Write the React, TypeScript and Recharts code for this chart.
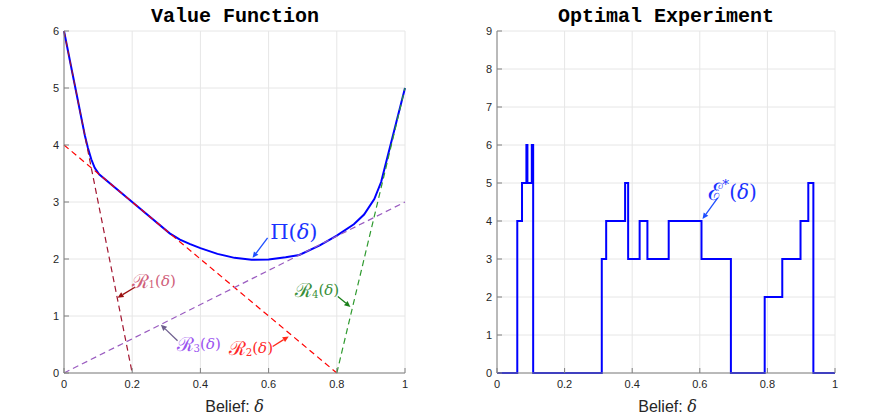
import React from 'react';
import {
  LineChart,
  Line,
  XAxis,
  YAxis,
  CartesianGrid,
  ReferenceLine,
  ReferenceDot,
} from 'recharts';

// value function Pi(delta)
const piX = [0, 0.03, 0.061, 0.07, 0.08, 0.09, 0.103, 0.2, 0.31, 0.34, 0.37, 0.4, 0.45, 0.5, 0.55, 0.6, 0.65, 0.69, 0.75, 0.8, 0.85, 0.88, 0.91, 0.93, 1];
const piY = [6, 5.1, 4.17, 3.95, 3.75, 3.6, 3.485, 3.0, 2.45, 2.34, 2.26, 2.19, 2.09, 2.02, 1.985, 1.99, 2.03, 2.07, 2.24, 2.41, 2.61, 2.78, 3.05, 3.35, 5];

// the four dashed lines R1..R4
const r1X = [0, 0.2];
const r1Y = [6, 0];
const r2X = [0, 0.8];
const r2Y = [4, 0];
const r3X = [0, 1];
const r3Y = [0, 3];
const r4X = [0.8, 1];
const r4Y = [0, 5];

// optimal experiment (step function)
const expX = [0, 0.06, 0.074, 0.087, 0.09, 0.103, 0.107, 0.31, 0.323, 0.379, 0.388, 0.422, 0.445, 0.508, 0.605, 0.692, 0.792, 0.844, 0.898, 0.921, 0.936, 1];
const expY = [0, 4, 5, 6, 5, 6, 0, 3, 4, 5, 3, 4, 3, 4, 3, 0, 2, 3, 4, 5, 0, 0];

const xTicks = [0, 0.2, 0.4, 0.6, 0.8, 1];
const valueTicks = [0, 1, 2, 3, 4, 5, 6];
const expTicks = [0, 1, 2, 3, 4, 5, 6, 7, 8, 9];

const zip = (xs: number[], ys: number[]) => xs.map((x, i) => ({ x, y: ys[i] }));

const AXIS = '#808080';
const SANS = "'Liberation Sans', Arial, sans-serif";
const MATH = "'DejaVu Serif', serif";

// MATLAB-like tick: short inward mark plus label
const makeTick = (side: 'bottom' | 'left' | 'top' | 'right', gap: number) => (p: any) => {
  const { x, y, payload } = p;
  const label = String(payload.value);
  if (side === 'bottom') {
    return (
      <g>
        <line x1={x} y1={y - gap} x2={x} y2={y - gap - 5} stroke={AXIS} />
        <text x={x} y={y} dy="0.8em" textAnchor="middle" fontFamily={SANS} fontSize={11} fill="#262626">{label}</text>
      </g>
    );
  }
  if (side === 'left') {
    return (
      <g>
        <line x1={x + gap} y1={y} x2={x + gap + 5} y2={y} stroke={AXIS} />
        <text x={x} y={y} dy="0.35em" textAnchor="end" fontFamily={SANS} fontSize={11} fill="#262626">{label}</text>
      </g>
    );
  }
  if (side === 'top') return <line x1={x} y1={y + gap} x2={x} y2={y + gap + 5} stroke={AXIS} />;
  return <line x1={x - gap} y1={y} x2={x - gap - 5} y2={y} stroke={AXIS} />;
};

const arrowShape = (color: string) => (p: any) => {
  const { x1, y1, x2, y2 } = p;
  const a = Math.atan2(y2 - y1, x2 - x1);
  const L = 6;
  const W = 2.8;
  const bx = x2 - L * Math.cos(a);
  const by = y2 - L * Math.sin(a);
  const pts = `${x2},${y2} ${bx - W * Math.sin(a)},${by + W * Math.cos(a)} ${bx + W * Math.sin(a)},${by - W * Math.cos(a)}`;
  return (
    <g>
      <line x1={x1} y1={y1} x2={bx} y2={by} stroke={color} strokeWidth={1.3} />
      <polygon points={pts} fill={color} />
    </g>
  );
};

const mathLabel = (base: string, sub: string, sup: string, color: string, size: number, baseScale = 1) => (p: any) => {
  const shift = sub ? size * 0.25 : sup ? -size * 0.4 : 0;
  return (
    <text x={p.cx} y={p.cy} textAnchor="middle" dominantBaseline="central" fill={color} fontFamily={MATH} fontSize={size}>
      <tspan fontSize={size * baseScale}>{base}</tspan>
      {sub && <tspan fontSize={size * 0.68} dy={shift}>{sub}</tspan>}
      {sup && <tspan fontSize={size * 0.68} dy={shift}>{sup}</tspan>}
      <tspan dy={-shift}>(</tspan>
      <tspan fontStyle="italic">δ</tspan>)
    </text>
  );
};

const Title = ({ text, left }: { text: string; left: number }) => (
  <div
    style={{
      position: 'absolute', left, top: 5, width: 436, textAlign: 'center',
      fontFamily: "'Liberation Mono', 'Courier New', monospace", fontWeight: 'bold', fontSize: 20, color: '#000',
    }}
  >
    {text}
  </div>
);

const XLabel = ({ left }: { left: number }) => (
  <div
    style={{
      position: 'absolute', left, top: 397, width: 341, textAlign: 'center',
      fontFamily: SANS, fontSize: 16, color: '#262626',
    }}
  >
    Belief: <span style={{ fontFamily: MATH, fontStyle: 'italic' }}>δ</span>
  </div>
);

const axes = (yTicks: number[], yMax: number, yWidth: number) => [
  <XAxis key="xb" xAxisId={0} dataKey="x" type="number" domain={[0, 1]} ticks={xTicks}
    height={47} tickSize={0} tickMargin={6} stroke={AXIS} tick={makeTick('bottom', 6)} />,
  <XAxis key="xt" xAxisId="top" orientation="top" type="number" domain={[0, 1]} ticks={xTicks}
    height={0} tickSize={0} tickMargin={0} stroke={AXIS} tick={makeTick('top', 0)} />,
  <YAxis key="yl" yAxisId={0} type="number" domain={[0, yMax]} ticks={yTicks} width={yWidth}
    tickSize={0} tickMargin={5} stroke={AXIS} tick={makeTick('left', 5)} />,
  <YAxis key="yr" yAxisId="right" orientation="right" type="number" domain={[0, yMax]} ticks={yTicks}
    width={0} tickSize={0} tickMargin={0} stroke={AXIS} tick={makeTick('right', 0)} />,
];

const dashed = (xs: number[], ys: number[], color: string, key: string) => (
  <Line key={key} data={zip(xs, ys)} dataKey="y" type="linear" stroke={color} strokeWidth={1.2}
    strokeDasharray="6 4" dot={false} isAnimationActive={false} />
);

export default function App() {
  return (
    <div style={{ position: 'absolute', left: 0, top: 0, width: 872, height: 420, background: '#fff' }}>
      <Title text="Value Function" left={17} />
      <Title text="Optimal Experiment" left={448} />

      <div style={{ position: 'absolute', left: 0, top: 0 }}>
        <LineChart width={436} height={420} margin={{ top: 31, right: 31, bottom: 0, left: 0 }}>
          <CartesianGrid stroke="#e6e6e6" xAxisId={0} yAxisId={0} />
          {axes(valueTicks, 6, 64)}
          <Line data={zip(piX, piY)} dataKey="y" type="linear" stroke="#0000ff" strokeWidth={2}
            dot={false} isAnimationActive={false} />
          {dashed(r1X, r1Y, '#a2142f', 'r1')}
          {dashed(r2X, r2Y, '#ff0000', 'r2')}
          {dashed(r3X, r3Y, '#9a5cc0', 'r3')}
          {dashed(r4X, r4Y, '#2f9a2f', 'r4')}

          <ReferenceLine segment={[{ x: 0.597, y: 2.37 }, { x: 0.553, y: 2.02 }]} shape={arrowShape('#1f4fff')} />
          <ReferenceDot x={0.674} y={2.47} shape={mathLabel('Π', '', '', '#1a33ff', 21)} />

          <ReferenceLine segment={[{ x: 0.209, y: 1.51 }, { x: 0.157, y: 1.32 }]} shape={arrowShape('#9b1010')} />
          <ReferenceDot x={0.263} y={1.62} shape={mathLabel('ℛ', '1', '', '#d0607a', 15, 1.3)} />

          <ReferenceLine segment={[{ x: 0.333, y: 0.567 }, { x: 0.284, y: 0.847 }]} shape={arrowShape('#6e5f8e')} />
          <ReferenceDot x={0.395} y={0.51} shape={mathLabel('ℛ', '3', '', '#9b55f0', 15, 1.3)} />

          <ReferenceLine segment={[{ x: 0.612, y: 0.466 }, { x: 0.659, y: 0.64 }]} shape={arrowShape('#ff2a1a')} />
          <ReferenceDot x={0.548} y={0.43} shape={mathLabel('ℛ', '2', '', '#ff2a2a', 15, 1.3)} />

          <ReferenceLine segment={[{ x: 0.803, y: 1.34 }, { x: 0.84, y: 1.16 }]} shape={arrowShape('#1a801a')} />
          <ReferenceDot x={0.742} y={1.46} shape={mathLabel('ℛ', '4', '', '#3a8f3a', 15, 1.3)} />
        </LineChart>
      </div>

      <div style={{ position: 'absolute', left: 436, top: 0 }}>
        <LineChart width={436} height={420} margin={{ top: 31, right: 37, bottom: 0, left: 0 }}>
          <CartesianGrid stroke="#e6e6e6" xAxisId={0} yAxisId={0} />
          {axes(expTicks, 9, 61)}
          <Line data={zip(expX, expY)} dataKey="y" type="stepAfter" stroke="#0000ff" strokeWidth={2}
            dot={false} isAnimationActive={false} />
          <ReferenceLine segment={[{ x: 0.653, y: 4.61 }, { x: 0.608, y: 4.05 }]} shape={arrowShape('#1f4fff')} />
          <ReferenceDot x={0.697} y={4.77} shape={mathLabel('ℰ', '', '*', '#1a33ff', 20, 1.2)} />
        </LineChart>
      </div>

      <XLabel left={64} />
      <XLabel left={497} />
    </div>
  );
}
